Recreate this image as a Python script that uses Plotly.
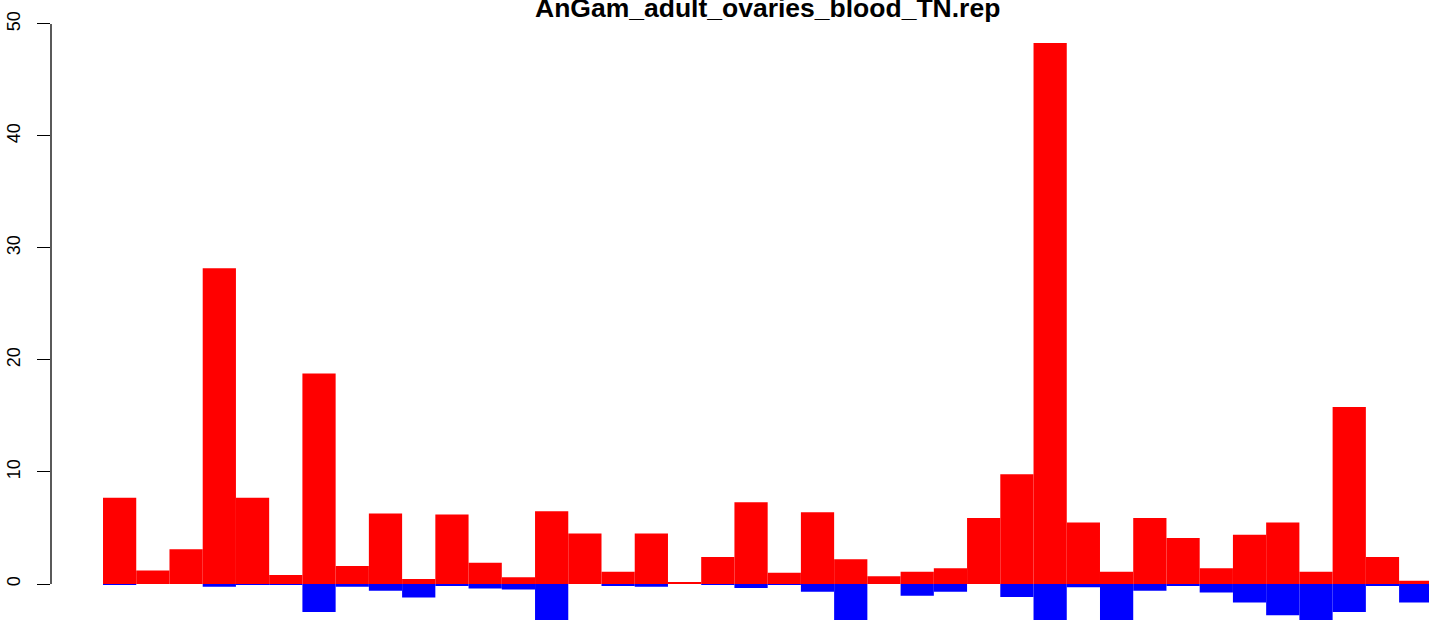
import plotly.graph_objects as go

# values per bin (positive = red, negative = blue)
title = "AnGam_adult_ovaries_blood_TN.rep"
bins = list(range(40))
pos_vals = [7.7, 1.2, 3.1, 28.2, 7.7, 0.8, 18.8, 1.6, 6.3, 0.45,
            6.2, 1.9, 0.6, 6.5, 4.5, 1.1, 4.5, 0.1, 2.4, 7.3,
            1.0, 6.4, 2.2, 0.7, 1.1, 1.4, 5.9, 9.8, 48.3, 5.5,
            1.1, 5.9, 4.1, 1.4, 4.4, 5.5, 1.1, 15.8, 2.4, 0.3]
neg_vals = [-0.05, 0, 0, -0.25, -0.05, -0.05, -2.5, -0.25, -0.6, -1.2,
            -0.15, -0.4, -0.5, -3.4, 0, -0.15, -0.25, 0, -0.05, -0.35,
            -0.05, -0.7, -3.4, 0, -1.05, -0.7, 0, -1.15, -3.4, -0.3,
            -3.4, -0.6, -0.15, -0.75, -1.65, -2.8, -3.4, -2.5, -0.15, -1.65]
y_ticks = [0, 10, 20, 30, 40, 50]

x = [b + 0.5 for b in bins]

fig = go.Figure()
fig.add_trace(go.Bar(x=x, y=pos_vals, width=1, marker=dict(color="#FF0000", line=dict(width=0))))
fig.add_trace(go.Bar(x=x, y=neg_vals, width=1, marker=dict(color="#0000FF", line=dict(width=0))))

fig.update_layout(
    width=1429, height=620,
    margin=dict(l=51, r=0, t=0, b=0),
    barmode="overlay",
    showlegend=False,
    plot_bgcolor="white", paper_bgcolor="white",
    font=dict(family="Liberation Sans, Arial, sans-serif", color="black"),
    xaxis=dict(range=[-1.565, 39.9], visible=False, showgrid=False, zeroline=False),
    yaxis=dict(range=[-3.214, 52.14], tickvals=y_ticks, ticks="outside", ticklen=13,
               tickwidth=1.3, tickcolor="black", tickangle=-90, tickfont=dict(size=18),
               ticklabelstandoff=10, showgrid=False, zeroline=False, showline=False),
)

# R style axis line running only from 0 to 50
fig.add_shape(type="line", xref="paper", yref="y", x0=0, x1=0, y0=0, y1=50,
              line=dict(color="black", width=1.3))

fig.add_annotation(text="<b>" + title + "</b>", xref="paper", yref="paper",
                   x=(767.5 - 51) / 1378, y=1 - 8 / 620, xanchor="center", yanchor="middle",
                   showarrow=False, font=dict(size=26.5, color="black"))

# drop the default page margin so the figure sits at the window corner
fig.write_html("out.html", config={"displayModeBar": False},
               post_script="document.body.style.margin='0';")
